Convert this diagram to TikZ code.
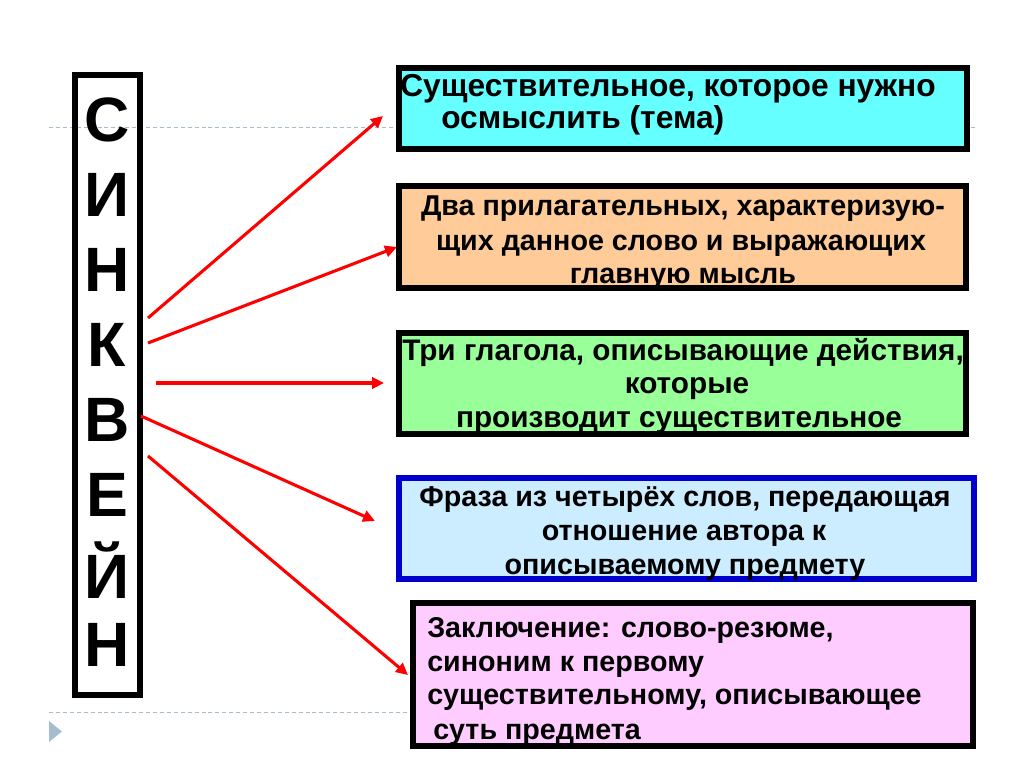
\documentclass[tikz,border=0pt]{standalone}
\usepackage{fontspec}
\setmainfont{Liberation Sans}
\usetikzlibrary{arrows.meta}
\definecolor{boxcyan}{HTML}{66FFFF}
\definecolor{boxpeach}{HTML}{FFCC99}
\definecolor{boxgreen}{HTML}{99FF99}
\definecolor{boxlblue}{HTML}{CCECFF}
\definecolor{boxpink}{HTML}{FFCCFF}
\definecolor{borderblue}{HTML}{0000CC}
\definecolor{guide}{HTML}{A6BDD0}
\definecolor{arrowred}{HTML}{FF0000}
\tikzset{
  panel/.style={draw=black, line width=4.5pt, inner sep=0pt, outer sep=0pt},
  txt/.style={font=\fontsize{21.5}{26}\selectfont\bfseries, inner sep=0pt, text=black},
  bigtxt/.style={font=\fontsize{23.8}{28}\selectfont\bfseries, inner sep=0pt, text=black},
  midtxt/.style={font=\fontsize{22.3}{26}\selectfont\bfseries, inner sep=0pt, text=black},
  letter/.style={font=\fontsize{47}{50}\selectfont\bfseries, inner sep=0pt},
  redarrow/.style={draw=arrowred, line width=2.3pt, -{Triangle[length=9pt,width=8.5pt]}},
  guideline/.style={draw=guide, line width=0.6pt, dash pattern=on 3pt off 2.2pt},
}
\begin{document}
\begin{tikzpicture}[x=0.75pt,y=-0.75pt]
\useasboundingbox (0,0) rectangle (1024,767);
% guide lines and bullet
\draw[guideline] (49,127) -- (975,127);
\draw[guideline] (49,712) -- (975,712);
\fill[guide] (49,721) -- (62,731.5) -- (49,742) -- cycle;
% vertical word box
\node[panel, fill=none, minimum width=65*0.75pt, minimum height=620*0.75pt, anchor=north west] (word) at (75,75) {};
\foreach \l/\y [count=\i] in {С/120,И/195,Н/270,К/345,В/420,Е/495,Й/570,Н/645}
  \node[letter] (L\i) at (107,\y) {\l};
% boxes
\node[panel, fill=boxcyan, minimum width=568*0.75pt, minimum height=81*0.75pt, anchor=north west] (b1) at (399,68) {};
\node[panel, fill=boxpeach, minimum width=567*0.75pt, minimum height=102*0.75pt, anchor=north west] (b2) at (399,186) {};
\node[panel, fill=boxgreen, minimum width=567*0.75pt, minimum height=101*0.75pt, anchor=north west] (b3) at (399,333) {};
\node[panel, draw=borderblue, fill=boxlblue, minimum width=575*0.75pt, minimum height=101*0.75pt, anchor=north west] (b4) at (399,478) {};
\node[panel, fill=boxpink, minimum width=560*0.75pt, minimum height=143*0.75pt, anchor=north west] (b5) at (413,603) {};
% texts
\node[bigtxt, anchor=base west] (t11) at (400,97) {Существительное, которое нужно};
\node[bigtxt, anchor=base west] (t12) at (441,128) {осмыслить (тема)};
\node[txt, anchor=base] (t21) at (683,215) {Два прилагательных, характеризую-};
\node[txt, anchor=base] (t22) at (681,250) {щих данное слово и выражающих};
\node[txt, anchor=base] (t23) at (683,283) {главную мысль};
\node[midtxt, anchor=base] (t31) at (683,360) {Три глагола, описывающие действия,};
\node[midtxt, anchor=base] (t32) at (687,393) {которые};
\node[midtxt, anchor=base] (t33) at (679,427) {производит существительное};
\node[txt, anchor=base] (t41) at (685,506) {Фраза из четырёх слов, передающая};
\node[txt, anchor=base] (t42) at (684,540) {отношение автора к};
\node[txt, anchor=base] (t43) at (685,574) {описываемому предмету};
\node[txt, anchor=base west] (t51) at (427,637) {Заключение: слово-резюме,};
\node[txt, anchor=base west] (t52) at (427,671) {синоним к первому};
\node[txt, anchor=base west] (t53) at (427,704) {существительному, описывающее};
\node[txt, anchor=base west] (t54) at (433,739) {суть предмета};
% arrow endpoints
\coordinate (s1) at (148,318); \coordinate (e1) at (383,116);
\coordinate (s2) at (148,343); \coordinate (e2) at (397,247);
\coordinate (s3) at (156,383); \coordinate (e3) at (384,383);
\coordinate (s4) at (141,416); \coordinate (e4) at (375,521);
\coordinate (s5) at (148,456); \coordinate (e5) at (408,675);
\draw[redarrow] (s1) -- (e1);
\draw[redarrow] (s2) -- (e2);
\draw[redarrow] (s3) -- (e3);
\draw[redarrow] (s4) -- (e4);
\draw[redarrow] (s5) -- (e5);
\end{tikzpicture}
\end{document}
